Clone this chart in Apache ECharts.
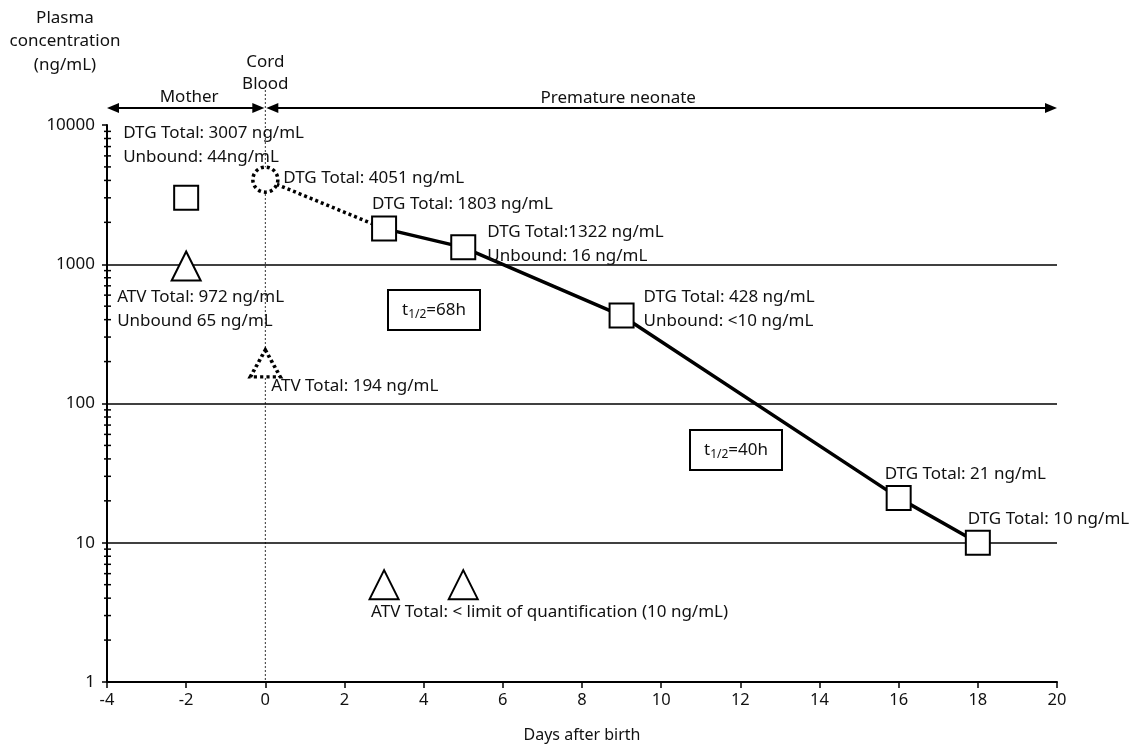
<!DOCTYPE html>
<html><head><meta charset="utf-8">
<script src="https://cdn.jsdelivr.net/npm/echarts@6/dist/echarts.min.js"></script>
<style>html,body{margin:0;padding:0;background:#fff}#c{width:1134px;height:748px}</style>
</head><body><div id="c"></div>
<script>
// ---- data ----
const xTicks = [-4, -2, 0, 2, 4, 6, 8, 10, 12, 14, 16, 18, 20];
const yTicks = [1, 10, 100, 1000, 10000];
const minorTickValues = [2,3,4,5,6,7,8,9,20,30,40,50,60,70,80,90,200,300,400,500,600,700,800,900,2000,3000,4000,5000,6000,7000,8000,9000];
const gridLineValues = [10, 100, 1000];
// DTG (dolutegravir): index 0 = mother, 1 = cord blood, rest = neonate
const dtgDays  = [-2, 0, 3, 5, 9, 16, 18];
const dtgTotal = [3007, 4051, 1803, 1322, 428, 21, 10];
const dtgLabels = [
  ["DTG Total: 3007 ng/mL", "Unbound: 44ng/mL"],
  ["DTG Total: 4051 ng/mL"],
  ["DTG Total: 1803 ng/mL"],
  ["DTG Total:1322 ng/mL", "Unbound: 16 ng/mL"],
  ["DTG Total: 428 ng/mL", "Unbound: <10 ng/mL"],
  ["DTG Total: 21 ng/mL"],
  ["DTG Total: 10 ng/mL"]
];
// ATV (atazanavir): index 0 = mother, 1 = cord blood, rest = neonate (<LOQ)
const atvDays  = [-2, 0, 3, 5];
const atvTotal = [972, 194, 5, 5];
const atvLabels = [
  ["ATV Total: 972 ng/mL", "Unbound 65 ng/mL"],
  ["ATV Total: 194 ng/mL"],
  ["ATV Total: < limit of quantification (10 ng/mL)"],
  null
];
const halfLives = ["68h", "40h"];
const periods = ["Mother", "Premature neonate"];

// ---- chart ----
const FONT = "'Noto Sans', sans-serif";
const FS = 17;
const chart = echarts.init(document.getElementById('c'));
const pts = (xs, ys) => xs.map((x, i) => [x, ys[i]]);
const dtgPts = pts(dtgDays, dtgTotal);
const atvPts = pts(atvDays, atvTotal);

chart.setOption({
  animation: false,
  textStyle: { fontFamily: FONT, color: '#111' },
  grid: { left: 107, right: 77, top: 125, bottom: 63 },
  xAxis: {
    type: 'value', min: -4, max: 20, interval: 2,
    name: 'Days after birth', nameLocation: 'middle', nameGap: 45,
    nameTextStyle: { fontSize: 16, color: '#111', fontFamily: FONT },
    axisLine: { onZero: false, lineStyle: { color: '#000', width: 2 } },
    axisTick: { show: true, length: 6, lineStyle: { color: '#000', width: 1.5 } },
    axisLabel: { fontSize: 16.5, color: '#111', margin: 10, fontFamily: FONT },
    splitLine: { show: false }
  },
  yAxis: {
    type: 'log', logBase: 10, min: 1, max: 10000,
    axisLine: { show: true, onZero: false, lineStyle: { color: '#000', width: 2 } },
    axisTick: { show: true, length: 5, lineStyle: { color: '#000', width: 1.5 } },
    axisLabel: { fontSize: 17, color: '#111', margin: 12, fontFamily: FONT,
                 formatter: v => String(Math.round(v)) },
    splitLine: { show: false }
  },
  series: [
    {
      type: 'custom', silent: true, z: 1,
      data: minorTickValues.map(v => [-4, v]),
      renderItem: (params, api) => {
        const p = api.coord([api.value(0), api.value(1)]);
        return { type: 'line', shape: { x1: p[0] - 3, y1: p[1], x2: p[0] + 4, y2: p[1] },
                 style: { stroke: '#000', lineWidth: 1.5 } };
      }
    },
    {
      type: 'line', data: [], silent: true, z: 1,
      markLine: {
        silent: true, symbol: 'none', label: { show: false },
        lineStyle: { color: '#000', width: 1.5, type: 'solid' },
        data: gridLineValues.map(v => ({ yAxis: v }))
      }
    },
    {
      type: 'line', data: dtgPts.slice(1, 3), symbol: 'none', z: 2,
      lineStyle: { color: '#000', width: 3.5, type: [3, 3] }
    },
    {
      type: 'line', data: dtgPts.slice(2), symbol: 'none', z: 2,
      lineStyle: { color: '#000', width: 3.5 }
    },
    {
      type: 'scatter', z: 5, symbol: 'rect', symbolSize: 24,
      data: [dtgPts[0]].concat(dtgPts.slice(2)),
      itemStyle: { color: '#fff', borderColor: '#000', borderWidth: 2, opacity: 1 }
    },
    {
      type: 'scatter', z: 5, symbol: 'circle', symbolSize: 25,
      data: [dtgPts[1]],
      itemStyle: { color: '#fff', borderColor: '#000', borderWidth: 3.5, borderType: [3, 3], opacity: 1 }
    },
    {
      type: 'scatter', z: 5, symbol: 'triangle', symbolSize: 29,
      data: [atvPts[0]].concat(atvPts.slice(2)),
      itemStyle: { color: '#fff', borderColor: '#000', borderWidth: 2, opacity: 1 }
    },
    {
      type: 'scatter', z: 5, symbol: 'triangle', symbolSize: [30, 27],
      data: [atvPts[1]],
      itemStyle: { color: '#fff', borderColor: '#000', borderWidth: 3.5, borderType: [3, 3], opacity: 1 }
    }
  ]
});

// ---- annotations (texts, arrows, boxes) ----
const px = p => chart.convertToPixel({ gridIndex: 0 }, p);
const g = [];
const txt = (x, y, text, opts) => g.push(Object.assign({
  type: 'text', x, y, z: 10,
  style: Object.assign({ text, fontSize: FS, fontFamily: FONT, fill: '#111', align: 'left', verticalAlign: 'middle' }, opts || {})
}));

const dtgOff = [[-63, -65], [18, -1], [-12, -24], [24, -15], [22, -18], [-14, -24], [-10, -24]];
const atvOff = [[-69, 31], [6, 23], [-13, 27], null];
const LH = 24;
dtgLabels.forEach((lines, i) => {
  if (!lines) return;
  const p = px(dtgPts[i]);
  lines.forEach((t, k) => txt(p[0] + dtgOff[i][0], p[1] + dtgOff[i][1] + k * LH, t));
});
atvLabels.forEach((lines, i) => {
  if (!lines) return;
  const p = px(atvPts[i]);
  lines.forEach((t, k) => txt(p[0] + atvOff[i][0], p[1] + atvOff[i][1] + k * LH, t));
});

// half-life boxes
const hlCenters = [[434, 310], [736, 450]];
halfLives.forEach((h, i) => {
  const [cx, cy] = hlCenters[i];
  g.push({ type: 'rect', z: 9, shape: { x: cx - 46, y: cy - 20, width: 92, height: 40 },
           style: { fill: '#fff', stroke: '#000', lineWidth: 2 } });
  g.push({ type: 'text', z: 10, x: cx, y: cy,
    style: { text: '{m|t}{s|1/2}{m|=' + h + '}', align: 'center', verticalAlign: 'middle', fill: '#111',
      rich: { m: { fontSize: FS, fontFamily: FONT, fill: '#111' },
              s: { fontSize: 12, fontFamily: FONT, fill: '#111', padding: [9, 0, 0, 0] } } } });
});

// y-axis title
['Plasma', 'concentration', '(ng/mL)'].forEach((t, k) =>
  txt(65, 18 + k * 23.5, t, { align: 'center' }));
// Cord blood
const x0 = px([0, 1])[0];
const xL = px([-4, 1])[0];
const xR = px([20, 1])[0];
const yBottom = px([0, 1])[1];
['Cord', 'Blood'].forEach((t, k) => txt(x0, 62 + k * 22, t, { align: 'center' }));
g.push({ type: 'line', z: 3, shape: { x1: x0, y1: 86, x2: x0, y2: yBottom },
         style: { stroke: '#333', lineWidth: 1, lineDash: [2, 2] } });

// period arrows
const ay = 108;
const arrow = (x1, x2) => {
  g.push({ type: 'line', z: 8, shape: { x1: x1 + 4, y1: ay, x2: x2 - 4, y2: ay }, style: { stroke: '#000', lineWidth: 2 } });
  g.push({ type: 'polygon', z: 8, shape: { points: [[x1, ay], [x1 + 12, ay - 5], [x1 + 12, ay + 5]] }, style: { fill: '#000' } });
  g.push({ type: 'polygon', z: 8, shape: { points: [[x2, ay], [x2 - 12, ay - 5], [x2 - 12, ay + 5]] }, style: { fill: '#000' } });
};
arrow(xL, x0 - 1);
arrow(x0 + 1, xR);
txt((xL + x0) / 2 + 3, 97, periods[0], { align: 'center' });
txt((x0 + xR) / 2 - 43, 98, periods[1], { align: 'center' });

chart.setOption({ graphic: g });
</script>
</body></html>
